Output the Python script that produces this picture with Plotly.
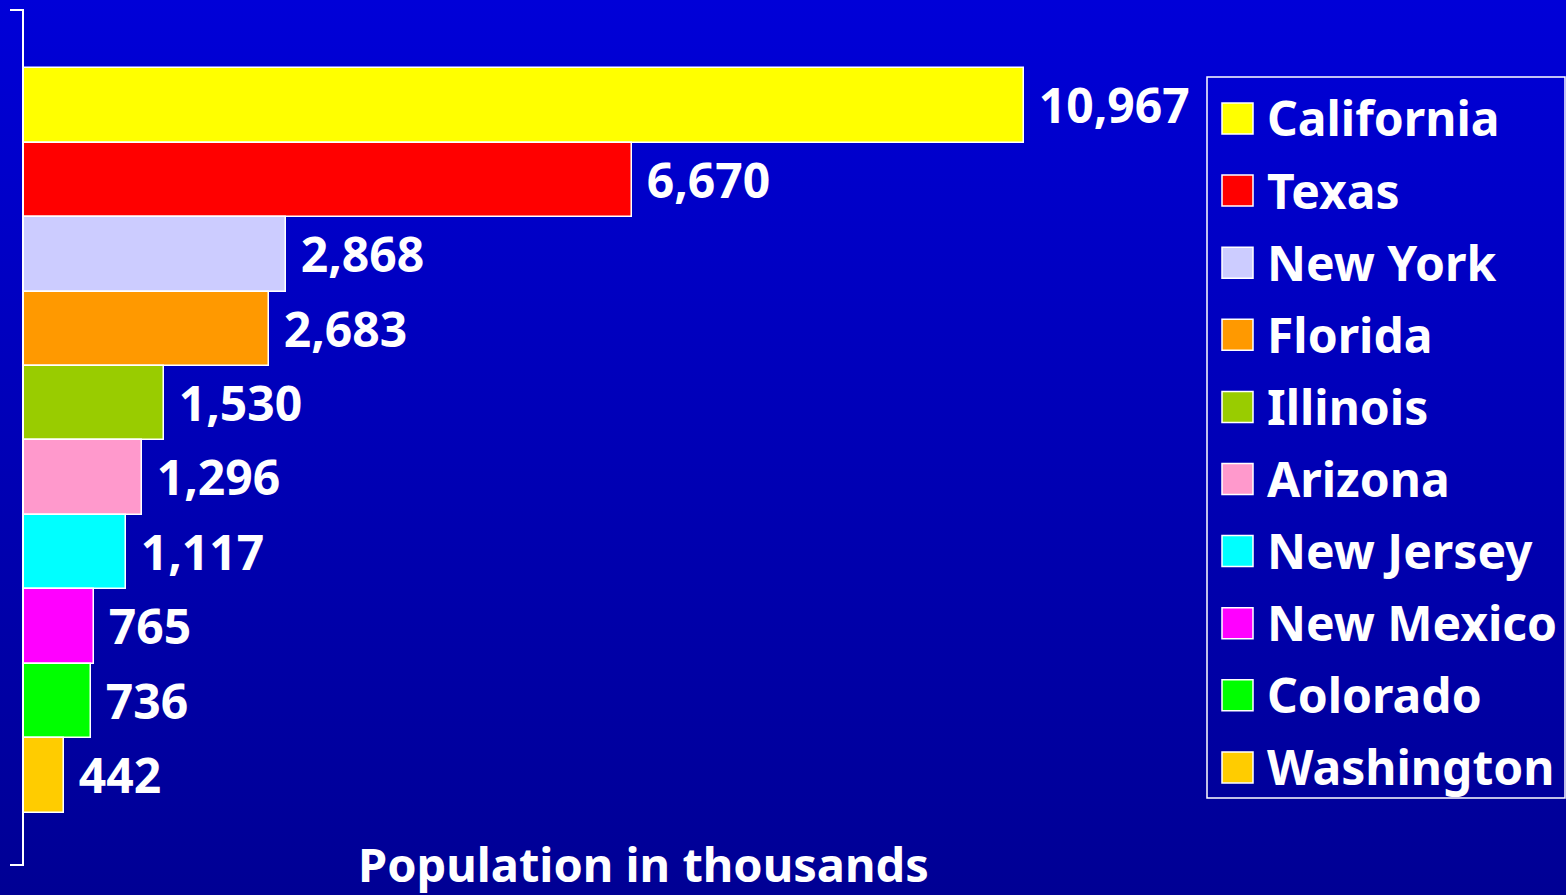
import base64
import plotly.graph_objects as go

# ---- data ----
states = ['California', 'Texas', 'New York', 'Florida', 'Illinois',
          'Arizona', 'New Jersey', 'New Mexico', 'Colorado', 'Washington']
population = [10967, 6670, 2868, 2683, 1530, 1296, 1117, 765, 736, 442]
colors = ['#FFFF00', '#FF0000', '#CCCCFF', '#FF9900', '#99CC00',
          '#FF99CC', '#00FFFF', '#FF00FF', '#00FF00', '#FFCC00']
x_title = 'Population in thousands'

# ---- page geometry ----
W, H = 1566, 895
ML, MR, MT, MB = 24, 0, 10, 30
PW, PH = W - ML - MR, H - MT - MB
FONT = 'Noto Sans'


def px(x):
    return (x - ML) / PW


def py(y):
    return (H - MB - y) / PH


# vertical blue gradient background (svg data uri)
svg = ('<svg xmlns="http://www.w3.org/2000/svg" width="100" height="100" preserveAspectRatio="none">'
       '<defs><linearGradient id="g" x1="0" y1="0" x2="0" y2="1">'
       '<stop offset="0" stop-color="#0000D8"/><stop offset="1" stop-color="#000094"/>'
       '</linearGradient></defs><rect width="100" height="100" fill="url(#g)"/></svg>')
bg_src = 'data:image/svg+xml;base64,' + base64.b64encode(svg.encode()).decode()

fig = go.Figure()

fig.add_trace(go.Bar(
    y=states, x=population,
    orientation='h',
    marker=dict(color=colors, line=dict(color='white', width=1.5)),
    texttemplate=' %{x:,}',
    textposition='outside',
    constraintext='none',
    cliponaxis=False,
    textfont=dict(family=FONT, size=48, color='white', weight='bold'),
    hovertemplate='%{y}: %{x:,}<extra></extra>',
    showlegend=False,
))

# ---- custom legend (big squares) ----
LX0, LX1, LY0, LY1 = 1207, 1565, 77, 798
first_y, step = 118, 72.1
shapes = [dict(type='rect', xref='paper', yref='paper',
               x0=px(LX0), x1=px(LX1), y0=py(LY1), y1=py(LY0),
               line=dict(color='white', width=1.5), fillcolor='rgba(0,0,0,0)')]
annotations = []
for i, (name, c) in enumerate(zip(states, colors)):
    cy = first_y + i * step
    shapes.append(dict(type='rect', xref='paper', yref='paper',
                       x0=px(1222), x1=px(1253), y0=py(cy + 16), y1=py(cy - 15),
                       line=dict(color='white', width=1.5), fillcolor=c))
    annotations.append(dict(xref='paper', yref='paper', x=px(1265), y=py(cy),
                            xanchor='left', yanchor='middle', showarrow=False,
                            text=name,
                            font=dict(family=FONT, size=48, color='white', weight='bold')))

# axis end ticks
for yy in (0, 1):
    shapes.append(dict(type='line', xref='paper', yref='paper',
                       x0=-14 / PW, x1=0, y0=yy, y1=yy,
                       line=dict(color='white', width=2)))

annotations.append(dict(xref='paper', yref='paper', x=px(643), y=0,
                        xanchor='center', yanchor='middle', yshift=1,
                        showarrow=False, text=x_title,
                        font=dict(family=FONT, size=47, color='white', weight='bold')))

fig.update_layout(
    width=W, height=H,
    margin=dict(l=ML, r=MR, t=MT, b=MB, pad=0),
    paper_bgcolor='#0000B8',
    plot_bgcolor='rgba(0,0,0,0)',
    bargap=0,
    showlegend=False,
    xaxis=dict(range=[0, 10967 * PW / 1000], showgrid=False, zeroline=False,
               showticklabels=False, showline=False, fixedrange=True),
    yaxis=dict(categoryorder='array', categoryarray=states,
               range=[len(states) - 0.5 + 0.70, -1.28],
               showgrid=False, zeroline=False, showticklabels=False,
               showline=True, linecolor='white', linewidth=2, ticks=''),
    shapes=shapes,
    annotations=annotations,
    images=[dict(source=bg_src, xref='paper', yref='paper',
                 x=-ML / PW, y=1 + MT / PH, sizex=W / PW, sizey=H / PH,
                 xanchor='left', yanchor='top', sizing='stretch', layer='below')],
)

fig.write_html('out.html', config={'displayModeBar': False},
               post_script="document.body.style.margin='0';")
